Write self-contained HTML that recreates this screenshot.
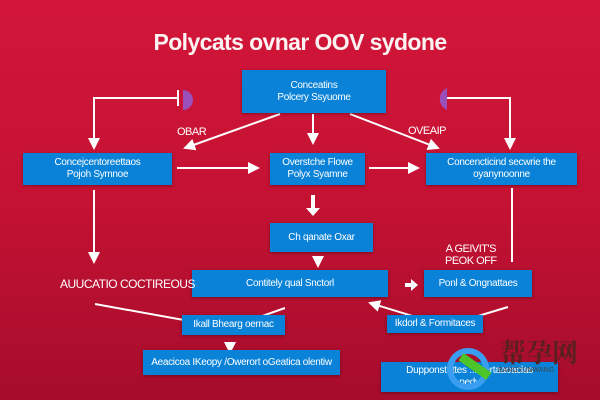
<!DOCTYPE html>
<html><head><meta charset="utf-8"><style>
html,body{margin:0;padding:0}
body{width:600px;height:400px;overflow:hidden;position:relative;background:linear-gradient(180deg,#d2163a 0%,#c41233 50%,#a60c2c 100%);font-family:"Liberation Sans",sans-serif}
.b{position:absolute;background:#0a82d8;color:#fff;font-size:10px;line-height:12px;text-align:center;display:flex;align-items:center;justify-content:center;box-shadow:0 1px 3px rgba(0,0,0,.35);letter-spacing:-0.3px}
.t{position:absolute;color:#fff;font-size:11px;letter-spacing:-0.5px}
h1{position:absolute;left:0;width:600px;top:29px;margin:0;text-align:center;font-size:23px;font-weight:bold;color:#fbf2f2;letter-spacing:-0.6px}
</style></head><body>
<h1>Polycats ovnar OOV sydone</h1>
<svg width="600" height="400" style="position:absolute;left:0;top:0">
<defs><marker id="a" markerWidth="6" markerHeight="6" refX="5" refY="3" orient="auto"><path d="M0,0L6,3L0,6z" fill="#fff"/></marker></defs>
<g stroke="#fff" stroke-width="2" fill="none">
<path d="M178,98H94V148" marker-end="url(#a)"/><path d="M178,90V106"/>
<path d="M445,98H510V148" marker-end="url(#a)"/>
<path d="M280,114L185,148" marker-end="url(#a)"/>
<path d="M313,114V143" marker-end="url(#a)"/>
<path d="M350,114L438,148" marker-end="url(#a)"/>
<path d="M177,168H258" marker-end="url(#a)"/>
<path d="M369,168H418" marker-end="url(#a)"/>
<path d="M94,190V262" marker-end="url(#a)"/>
<path d="M512,188V262"/>
<path d="M318,256V266" marker-end="url(#a)"/>
<path d="M95,304L228,328"/><path d="M285,308L228,328"/>
<path d="M230,342V352" marker-end="url(#a)"/>
<path d="M508,307L445,326L370,303" marker-end="url(#a)"/>
</g>
<path d="M313,195V210" stroke="#fff" stroke-width="4"/><path d="M306,208L313,216L320,208z" fill="#fff"/>
<path d="M405,283H411V279L418,285L411,291V287H405z" fill="#fff"/>
<path d="M183,90a10,10 0 0 1 0,20z" fill="#9b4fb8"/>
<path d="M447,88a12,12 0 0 0 0,22z" fill="#9b4fb8"/>
</svg>
<div class="b" style="left:242px;top:70px;width:144px;height:43px">Conceatins<br>Polcery Ssyuome</div>
<div class="b" style="left:23px;top:153px;width:149px;height:32px">Concejcentoreettaos<br>Pojoh Symnoe</div>
<div class="b" style="left:270px;top:153px;width:95px;height:32px">Overstche Flowe<br>Polyx Syamne</div>
<div class="b" style="left:426px;top:153px;width:151px;height:32px">Concencticind secwrie the<br>oyanynoonne</div>
<div class="b" style="left:270px;top:223px;width:103px;height:29px">Ch qanate Oxar</div>
<div class="b" style="left:192px;top:270px;width:196px;height:27px">Contitely qual Snctorl</div>
<div class="b" style="left:424px;top:270px;width:108px;height:27px">Ponl &amp; Ongnattaes</div>
<div class="b" style="left:182px;top:315px;width:103px;height:20px">Ikall Bhearg oernac</div>
<div class="b" style="left:387px;top:315px;width:96px;height:18px">Ikdorl &amp; Formitaces</div>
<div class="b" style="left:143px;top:350px;width:197px;height:25px">Aeacicoa IKeopy /Owerort oGeatica olentiw</div>
<div class="b" style="left:381px;top:362px;width:177px;height:30px">Dupponstettes ... eertaaoaclas<br>pedy</div>
<div class="t" style="left:177px;top:126px">OBAR</div>
<div class="t" style="left:408px;top:125px">OVEAIP</div>
<div class="t" style="left:60px;top:277px;font-size:12px">AUUCATIO COCTIREOUS</div>
<div class="t" style="left:445px;top:243px;text-align:center;line-height:12px">A GEIVIT'S<br>PEOK OFF</div>
<div style="position:absolute;left:447px;top:348px;width:42px;height:42px;border-radius:50%;border:6px solid #3a9ef0;box-sizing:border-box"></div>
<div style="position:absolute;left:458px;top:362px;width:34px;height:9px;background:#4cc42a;transform:rotate(35deg)"></div>
<div style="position:absolute;left:500px;top:333px;font-size:26px;font-weight:bold;color:#5a2020;font-family:'Noto Serif CJK SC',serif">帮孕网</div>
<div style="position:absolute;left:498px;top:367px;font-size:7px;color:#444">BANGYUNWANG</div>
</body></html>
